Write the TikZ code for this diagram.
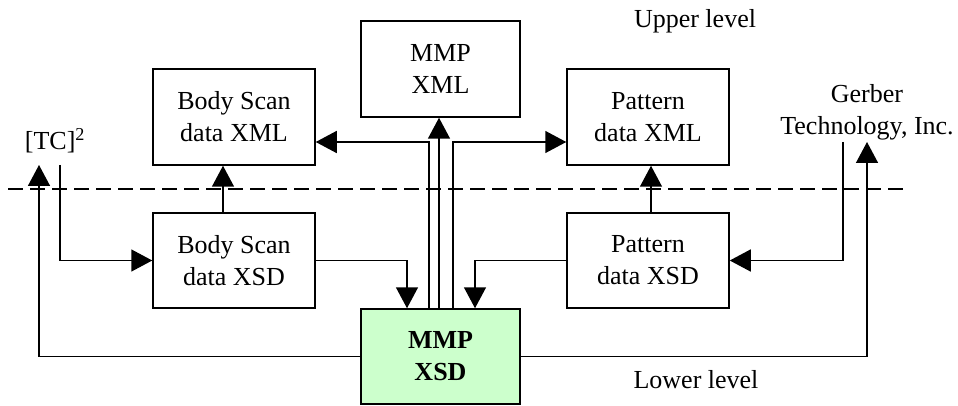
\documentclass[tikz,border=0pt]{standalone}
\usepackage{fontspec}
\setmainfont{Liberation Serif}[BoldFont={Liberation Serif Bold}]
\usetikzlibrary{arrows.meta,calc}
\definecolor{lightgreen}{RGB}{204,255,204}
\tikzset{
  box/.style={draw=black, line width=1.5pt, minimum width=162pt, minimum height=96pt, inner sep=0pt, align=center, font=\fontsize{26}{32}\selectfont},
  lbl/.style={inner sep=0pt, align=center, font=\fontsize{26}{32}\selectfont},
  arr/.style={line width=1.5pt, -{Triangle[length=21pt,width=22pt]}},
  sep/.style={line width=1.5pt, dash pattern=on 15pt off 7pt}
}
\begin{document}
\begin{tikzpicture}[x=1pt,y=-1pt]
\useasboundingbox (0,0) rectangle (958,406);
% boxes
\node[box] (bsxml) at (234,117) {Body Scan\\data XML};
\node[box, minimum width=159pt] (mmpxml) at (440.5,69) {MMP\\XML};
\node[box] (ptxml) at (648,117) {Pattern\\data XML};
\node[box, minimum height=95pt] (bsxsd) at (234,260.5) {Body Scan\\data XSD};
\node[box, minimum height=95pt] (ptxsd) at (648,260.5) {Pattern\\data XSD};
\node[box, minimum width=159pt, minimum height=95pt, fill=lightgreen, font=\fontsize{26}{32}\selectfont\bfseries] (mmpxsd) at (440.5,356.5) {MMP\\XSD};
% labels
\node[lbl] (tc) at (55,141) {[TC]\textsuperscript{2}};
\node[lbl] (gerber) at (867,112) {Gerber\\Technology, Inc.};
\node[lbl] (upper) at (695,21) {Upper level};
\node[lbl] (lower) at (696,380) {Lower level};
% free ends
\coordinate (tcout) at (60,165);
\coordinate (tcin) at (39,165);
\coordinate (gerout) at (843,142);
\coordinate (gerin) at (867,142);
\coordinate (dl) at (8,189);
\coordinate (dr) at (906,189);
% separator
\draw[sep] (dl) -- (dr);
% connectors
\draw[arr] ($(bsxsd.north)+(-11,0)$) -- ($(bsxml.south)+(-11,0)$);
\draw[arr] ($(ptxsd.north)+(3,0)$) -- ($(ptxml.south)+(3,0)$);
\draw[arr] (tcout) |- (bsxsd.west);
\draw[arr] (mmpxsd.west) -| (tcin);
\draw[arr] (mmpxsd.east) -| (gerin);
\draw[arr] (gerout) |- (ptxsd.east);
\draw[arr] (bsxsd.east) -| ($(mmpxsd.north)+(-33.5,0)$);
\draw[arr] (ptxsd.west) -| ($(mmpxsd.north)+(34.5,0)$);
\draw[arr] ($(mmpxsd.north)+(-11.5,0)$) |- ($(bsxml.east)+(0,25)$);
\draw[arr] ($(mmpxsd.north)+(-1.5,0)$) -- ($(mmpxml.south)+(-1.5,0)$);
\draw[arr] ($(mmpxsd.north)+(12.5,0)$) |- ($(ptxml.west)+(0,25)$);
\end{tikzpicture}
\end{document}
